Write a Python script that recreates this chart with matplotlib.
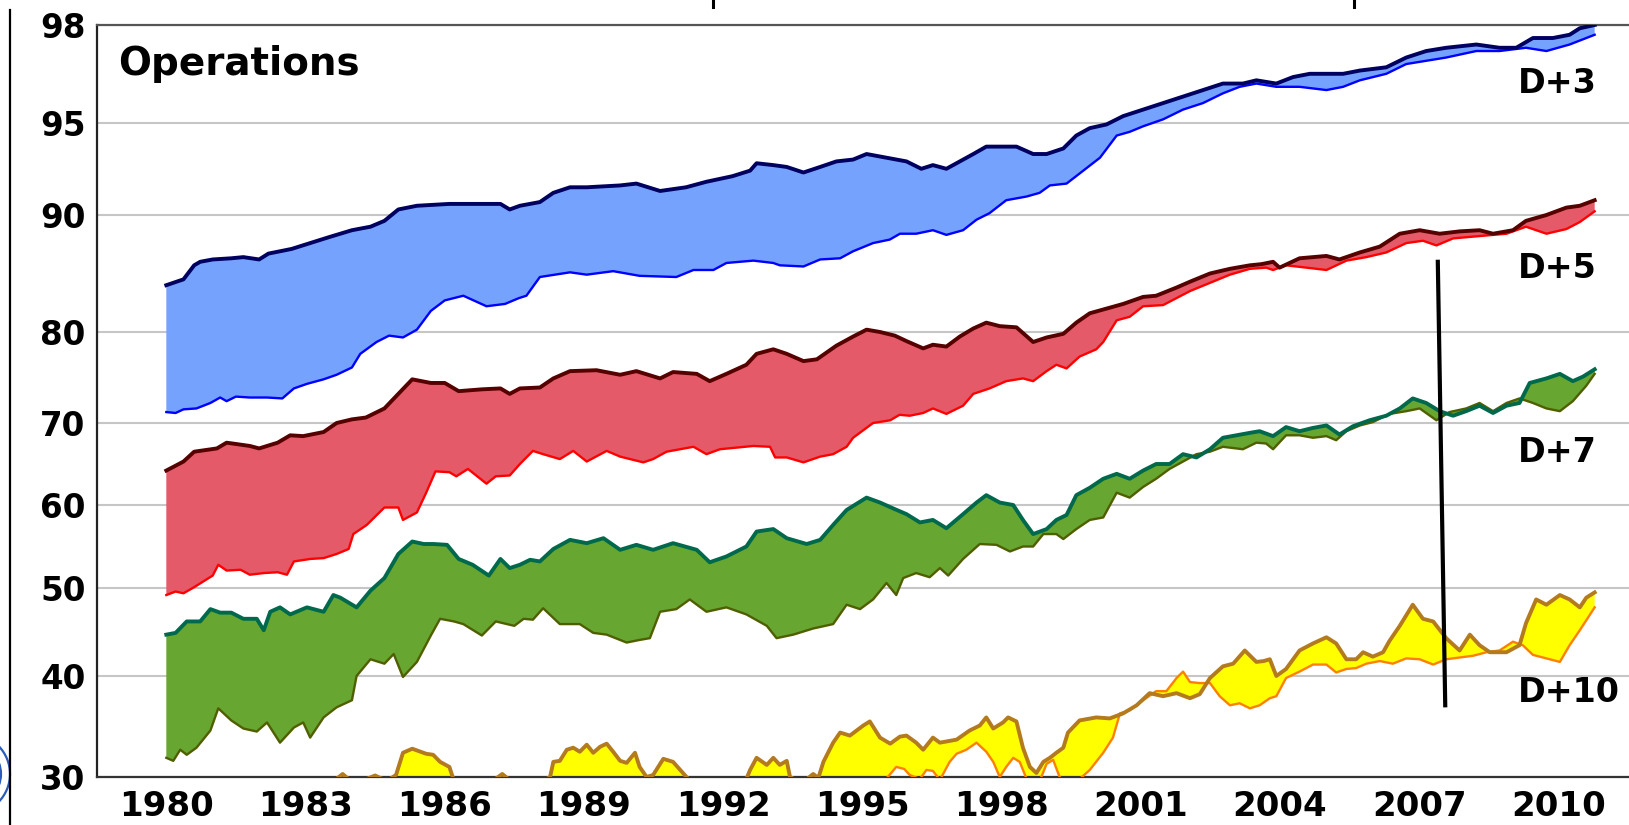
import numpy as np
import matplotlib
matplotlib.use("Agg")
import matplotlib.pyplot as plt
from matplotlib.lines import Line2D
from matplotlib.patches import Circle

# ---------------- data (year, anomaly correlation %) ----------------
d3_nh = [(1980.0,84.0),(1980.37,84.5),(1980.6,85.7),(1980.73,86.0),(1981.0,86.2),(1981.4,86.3),(1981.66,86.4),(1982.0,86.2),(1982.2,86.7),(1982.7,87.1),(1983.1,87.6),(1983.5,88.1),(1984.0,88.7),(1984.4,89.0),(1984.7,89.5),(1985.0,90.3),(1985.4,90.5),(1986.1,90.6),(1986.8,90.6),(1987.2,90.6),(1987.4,90.3),(1987.62,90.5),(1988.05,90.7),(1988.34,91.2),(1988.7,91.5),(1989.06,91.5),(1989.78,91.6),(1990.13,91.7),(1990.64,91.3),(1991.2,91.5),(1991.64,91.8),(1992.2,92.1),(1992.58,92.4),(1992.72,92.8),(1993.08,92.7),(1993.37,92.6),(1993.73,92.3),(1994.09,92.6),(1994.44,92.9),(1994.8,93.0),(1995.09,93.3),(1995.52,93.1),(1995.95,92.9),(1996.27,92.5),(1996.52,92.7),(1996.81,92.5),(1997.1,92.9),(1997.39,93.3),(1997.67,93.7),(1997.96,93.7),(1998.32,93.7),(1998.68,93.3),(1998.97,93.3),(1999.33,93.6),(1999.61,94.3),(1999.9,94.7),(2000.26,94.9),(2000.62,95.2),(2001.05,95.4),(2001.48,95.6),(2001.91,95.8),(2002.34,96.0),(2002.77,96.2),(2003.2,96.2),(2003.49,96.3),(2003.92,96.2),(2004.28,96.4),(2004.64,96.5),(2005.0,96.5),(2005.36,96.5),(2005.72,96.6),(2006.29,96.7),(2006.72,97.0),(2007.15,97.2),(2007.58,97.3),(2008.23,97.4),(2008.73,97.3),(2009.09,97.3),(2009.45,97.6),(2009.88,97.6),(2010.24,97.7),(2010.46,97.9),(2010.78,98.0)]
d3_sh = [(1980.0,71.2),(1980.2,71.1),(1980.37,71.5),(1980.65,71.6),(1980.95,72.2),(1981.16,72.8),(1981.3,72.4),(1981.5,72.9),(1981.8,72.8),(1982.17,72.8),(1982.5,72.7),(1982.75,73.8),(1983.03,74.3),(1983.39,74.8),(1983.67,75.3),(1984.0,76.1),(1984.18,77.6),(1984.53,78.9),(1984.8,79.6),(1985.1,79.4),(1985.4,80.2),(1985.7,81.8),(1986.0,82.7),(1986.4,83.1),(1986.9,82.2),(1987.3,82.4),(1987.6,82.9),(1987.76,83.1),(1988.05,84.7),(1988.7,85.1),(1989.06,84.9),(1989.63,85.2),(1990.2,84.8),(1990.99,84.7),(1991.36,85.3),(1991.79,85.3),(1992.07,85.9),(1992.65,86.1),(1993.08,85.9),(1993.22,85.7),(1993.73,85.6),(1994.09,86.2),(1994.52,86.3),(1994.8,86.9),(1995.23,87.6),(1995.59,87.9),(1995.81,88.4),(1996.16,88.4),(1996.52,88.7),(1996.81,88.3),(1997.17,88.7),(1997.46,89.6),(1997.74,90.1),(1998.1,90.8),(1998.54,91.0),(1998.82,91.2),(1999.04,91.6),(1999.4,91.7),(1999.76,92.4),(2000.12,93.1),(2000.48,94.3),(2000.76,94.5),(2001.05,94.8),(2001.48,95.1),(2001.91,95.4),(2002.34,95.6),(2002.77,95.9),(2003.13,96.1),(2003.49,96.2),(2003.92,96.1),(2004.42,96.1),(2005.0,96.0),(2005.36,96.1),(2005.72,96.3),(2006.29,96.5),(2006.72,96.8),(2007.15,96.9),(2007.58,97.0),(2008.23,97.2),(2008.73,97.2),(2009.3,97.3),(2009.74,97.2),(2010.24,97.4),(2010.78,97.7)]
d5_nh = [(1980.0,64.2),(1980.37,65.3),(1980.6,66.5),(1981.09,66.9),(1981.3,67.6),(1981.8,67.2),(1982.0,66.9),(1982.4,67.6),(1982.67,68.5),(1982.95,68.4),(1983.39,68.9),(1983.67,70.0),(1984.0,70.4),(1984.3,70.6),(1984.7,71.6),(1985.0,73.2),(1985.3,74.8),(1985.7,74.4),(1986.0,74.4),(1986.3,73.5),(1986.8,73.7),(1987.2,73.8),(1987.4,73.2),(1987.62,73.8),(1988.05,73.9),(1988.34,74.9),(1988.7,75.7),(1989.27,75.8),(1989.78,75.3),(1990.13,75.7),(1990.64,74.9),(1990.92,75.6),(1991.43,75.4),(1991.71,74.6),(1992.07,75.4),(1992.5,76.4),(1992.72,77.6),(1993.08,78.1),(1993.37,77.6),(1993.73,76.8),(1994.02,77.0),(1994.44,78.5),(1994.8,79.5),(1995.09,80.2),(1995.38,80.0),(1995.7,79.6),(1995.95,79.0),(1996.31,78.2),(1996.52,78.6),(1996.81,78.4),(1997.1,79.5),(1997.39,80.3),(1997.67,80.8),(1997.96,80.5),(1998.32,80.4),(1998.68,78.9),(1998.97,79.4),(1999.33,79.8),(1999.61,80.8),(1999.9,81.6),(2000.26,82.0),(2000.62,82.4),(2001.05,83.0),(2001.33,83.1),(2001.77,83.8),(2002.06,84.3),(2002.49,85.0),(2002.92,85.4),(2003.35,85.7),(2003.6,85.8),(2003.85,86.0),(2003.99,85.5),(2004.42,86.3),(2005.0,86.5),(2005.28,86.2),(2005.72,86.8),(2006.15,87.3),(2006.58,88.4),(2007.01,88.7),(2007.44,88.4),(2007.87,88.6),(2008.3,88.7),(2008.59,88.4),(2009.02,88.7),(2009.3,89.5),(2009.74,90.0),(2010.17,90.4),(2010.46,90.5),(2010.78,90.8)]
d5_sh = [(1980.0,49.2),(1980.2,49.6),(1980.37,49.4),(1980.6,50.1),(1981.0,51.5),(1981.12,52.8),(1981.3,52.1),(1981.6,52.2),(1981.8,51.6),(1982.1,51.8),(1982.4,51.9),(1982.6,51.6),(1982.75,53.2),(1983.1,53.5),(1983.39,53.6),(1983.67,54.1),(1983.93,54.7),(1984.03,56.5),(1984.32,57.6),(1984.7,59.7),(1985.0,59.7),(1985.1,58.2),(1985.4,59.1),(1985.6,61.5),(1985.8,64.1),(1986.1,64.0),(1986.25,63.5),(1986.5,64.4),(1986.9,62.6),(1987.1,63.5),(1987.4,63.6),(1987.62,65.0),(1987.9,66.6),(1988.12,66.2),(1988.48,65.6),(1988.77,66.6),(1989.06,65.3),(1989.49,66.6),(1989.78,65.9),(1990.28,65.2),(1990.49,65.6),(1990.78,66.5),(1991.36,67.1),(1991.64,66.2),(1991.93,66.8),(1992.65,67.2),(1993.01,67.1),(1993.12,65.8),(1993.37,65.8),(1993.73,65.2),(1994.09,65.9),(1994.37,66.2),(1994.66,67.1),(1994.8,68.2),(1995.23,70.0),(1995.6,70.3),(1995.8,70.9),(1996.02,70.8),(1996.31,71.1),(1996.52,71.6),(1996.81,71.0),(1997.17,71.9),(1997.39,73.2),(1997.74,73.8),(1998.1,74.6),(1998.46,74.9),(1998.68,74.6),(1998.97,75.7),(1999.18,76.4),(1999.4,76.0),(1999.68,77.3),(2000.04,78.1),(2000.19,78.9),(2000.48,81.0),(2000.76,81.3),(2001.05,82.2),(2001.48,82.3),(2001.77,82.9),(2002.06,83.5),(2002.49,84.2),(2002.92,84.9),(2003.35,85.4),(2003.7,85.5),(2003.85,85.3),(2004.13,85.7),(2004.57,85.5),(2005.0,85.3),(2005.43,86.1),(2005.86,86.4),(2006.29,86.8),(2006.72,87.6),(2007.08,87.8),(2007.37,87.4),(2007.73,88.0),(2008.3,88.2),(2008.88,88.4),(2009.3,89.0),(2009.74,88.4),(2010.17,88.8),(2010.46,89.4),(2010.78,90.2)]
d7_nh = [(1980.0,44.7),(1980.2,44.9),(1980.44,46.2),(1980.73,46.2),(1980.95,47.6),(1981.16,47.2),(1981.4,47.2),(1981.66,46.5),(1981.95,46.5),(1982.1,45.2),(1982.24,47.3),(1982.45,47.8),(1982.67,47.0),(1983.03,47.8),(1983.39,47.3),(1983.6,49.2),(1983.75,48.9),(1984.1,47.8),(1984.4,49.7),(1984.7,51.2),(1985.0,54.1),(1985.3,55.6),(1985.55,55.3),(1985.76,55.3),(1986.05,55.2),(1986.3,53.5),(1986.6,52.8),(1986.95,51.5),(1987.2,53.5),(1987.4,52.4),(1987.62,52.8),(1987.84,53.4),(1988.05,53.2),(1988.34,54.7),(1988.7,55.8),(1989.06,55.4),(1989.42,56.0),(1989.78,54.6),(1990.13,55.2),(1990.49,54.6),(1990.92,55.4),(1991.43,54.6),(1991.71,53.1),(1992.07,53.8),(1992.5,55.0),(1992.72,56.8),(1993.08,57.1),(1993.37,56.0),(1993.8,55.3),(1994.09,55.8),(1994.37,57.6),(1994.66,59.4),(1995.09,60.9),(1995.38,60.3),(1995.7,59.5),(1995.95,58.9),(1996.24,57.9),(1996.52,58.2),(1996.81,57.2),(1997.17,58.9),(1997.46,60.3),(1997.67,61.2),(1997.96,60.3),(1998.25,60.0),(1998.46,58.2),(1998.68,56.5),(1998.97,57.1),(1999.18,58.2),(1999.4,58.8),(1999.61,61.2),(1999.9,62.1),(2000.19,63.2),(2000.48,63.8),(2000.76,63.2),(2001.05,64.2),(2001.33,65.0),(2001.62,65.0),(2001.91,66.2),(2002.2,65.8),(2002.49,66.8),(2002.77,68.2),(2003.06,68.5),(2003.35,68.8),(2003.56,69.0),(2003.85,68.4),(2004.13,69.5),(2004.42,69.0),(2004.71,69.4),(2005.0,69.7),(2005.28,68.6),(2005.57,69.6),(2005.93,70.3),(2006.29,70.8),(2006.58,71.6),(2006.86,72.7),(2007.15,72.2),(2007.44,71.3),(2007.73,70.8),(2008.01,71.3),(2008.3,71.9),(2008.59,71.1),(2008.88,71.9),(2009.16,72.2),(2009.38,74.4),(2009.74,74.9),(2010.03,75.4),(2010.31,74.6),(2010.53,75.1),(2010.78,75.9)]
d7_sh = [(1980.0,31.9),(1980.15,31.6),(1980.3,32.7),(1980.44,32.2),(1980.65,32.9),(1980.95,34.6),(1981.12,36.8),(1981.4,35.6),(1981.66,34.8),(1981.95,34.5),(1982.17,35.4),(1982.45,33.4),(1982.75,34.9),(1982.95,35.4),(1983.1,33.9),(1983.39,35.9),(1983.67,36.9),(1984.0,37.6),(1984.1,40.0),(1984.4,41.9),(1984.7,41.4),(1984.9,42.5),(1985.1,39.9),(1985.4,41.6),(1985.7,44.6),(1985.9,46.5),(1986.2,46.2),(1986.4,45.9),(1986.8,44.6),(1987.1,46.2),(1987.5,45.7),(1987.7,46.5),(1987.9,46.4),(1988.12,47.7),(1988.48,45.9),(1988.91,45.9),(1989.2,44.9),(1989.49,44.7),(1989.92,43.8),(1990.2,44.1),(1990.42,44.3),(1990.64,47.3),(1990.99,47.6),(1991.28,48.7),(1991.64,47.3),(1992.07,47.8),(1992.5,47.0),(1992.94,45.7),(1993.15,44.3),(1993.51,44.7),(1993.94,45.4),(1994.37,45.9),(1994.66,48.1),(1994.95,47.6),(1995.23,48.7),(1995.52,50.6),(1995.73,49.2),(1995.88,51.2),(1996.16,51.8),(1996.45,51.3),(1996.67,52.4),(1996.85,51.5),(1997.17,53.5),(1997.53,55.3),(1997.89,55.2),(1998.18,54.4),(1998.46,55.0),(1998.68,55.0),(1998.9,56.5),(1999.18,56.5),(1999.33,55.9),(1999.61,57.1),(1999.9,58.2),(2000.19,58.5),(2000.48,61.5),(2000.76,60.9),(2001.05,62.2),(2001.33,63.2),(2001.62,64.4),(2001.91,65.3),(2002.2,66.2),(2002.49,66.5),(2002.77,67.1),(2003.2,66.8),(2003.49,67.6),(2003.7,67.5),(2003.85,66.8),(2004.13,68.5),(2004.42,68.5),(2004.71,68.2),(2005.0,68.4),(2005.21,67.9),(2005.43,69.0),(2005.72,69.7),(2006.0,70.1),(2006.36,71.0),(2006.72,71.3),(2007.01,71.6),(2007.37,70.3),(2007.65,71.2),(2008.01,71.6),(2008.3,72.2),(2008.59,71.3),(2008.88,72.2),(2009.16,72.7),(2009.45,72.2),(2009.74,71.6),(2010.03,71.3),(2010.31,72.4),(2010.6,74.1),(2010.78,75.4)]
d10_nh = [(1980.0,26.5),(1980.5,27.5),(1981.0,28.2),(1981.5,27.2),(1982.0,27.8),(1982.5,28.6),(1983.0,28.2),(1983.5,29.2),(1983.8,30.3),(1984.05,29.3),(1984.5,30.15),(1984.75,29.6),(1984.95,30.2),(1985.1,32.4),(1985.3,32.8),(1985.6,32.3),(1985.75,32.2),(1985.9,31.5),(1986.1,31.0),(1986.2,29.6),(1986.6,28.6),(1987.0,29.5),(1987.24,30.3),(1987.5,29.3),(1987.9,29.0),(1988.27,30.0),(1988.34,31.5),(1988.48,31.6),(1988.63,32.7),(1988.77,32.9),(1988.91,32.5),(1989.06,33.2),(1989.2,32.4),(1989.35,33.0),(1989.49,33.3),(1989.63,32.5),(1989.78,31.6),(1989.92,31.4),(1990.1,32.4),(1990.2,31.0),(1990.35,30.0),(1990.49,30.2),(1990.71,31.8),(1990.92,31.5),(1991.21,30.0),(1991.36,29.3),(1991.8,28.5),(1992.2,29.0),(1992.5,29.8),(1992.58,30.7),(1992.72,31.9),(1992.94,31.2),(1993.08,31.9),(1993.22,31.2),(1993.37,31.6),(1993.44,30.0),(1993.7,29.4),(1993.94,30.3),(1994.05,29.9),(1994.16,31.5),(1994.37,33.4),(1994.52,34.4),(1994.73,34.1),(1995.02,35.1),(1995.16,35.5),(1995.38,33.9),(1995.6,33.3),(1995.81,34.0),(1995.95,34.1),(1996.16,33.4),(1996.31,32.7),(1996.52,33.9),(1996.67,33.4),(1997.03,33.7),(1997.31,34.6),(1997.53,35.1),(1997.67,35.9),(1997.82,34.8),(1998.03,35.4),(1998.14,35.9),(1998.32,35.5),(1998.46,32.9),(1998.61,31.0),(1998.75,30.4),(1998.9,31.5),(1999.04,31.9),(1999.18,32.4),(1999.33,32.9),(1999.43,34.4),(1999.68,35.6),(2000.04,35.9),(2000.33,35.8),(2000.62,36.3),(2000.91,37.1),(2001.19,38.3),(2001.48,38.0),(2001.77,38.3),(2002.06,37.8),(2002.27,38.2),(2002.49,39.8),(2002.77,41.1),(2002.99,41.4),(2003.24,42.9),(2003.49,41.6),(2003.65,41.7),(2003.78,41.9),(2003.92,40.0),(2004.13,40.8),(2004.42,42.9),(2004.71,43.7),(2005.0,44.4),(2005.21,43.7),(2005.43,41.9),(2005.64,41.9),(2005.79,42.7),(2006.0,42.2),(2006.22,42.7),(2006.36,44.0),(2006.58,45.7),(2006.86,48.1),(2007.08,46.5),(2007.3,46.2),(2007.58,44.3),(2007.87,42.9),(2008.09,44.7),(2008.3,43.5),(2008.52,42.7),(2008.88,42.7),(2009.16,43.5),(2009.3,46.0),(2009.52,48.7),(2009.74,48.1),(2010.03,49.2),(2010.24,48.7),(2010.46,47.8),(2010.6,48.9),(2010.78,49.5)]
d10_sh = [(1980.0,20.0),(1981.5,21.0),(1983.0,22.0),(1984.5,23.5),(1985.5,25.0),(1987.0,24.0),(1988.5,25.5),(1990.0,26.0),(1991.5,25.0),(1993.0,26.5),(1994.3,27.5),(1995.0,28.2),(1995.4,29.2),(1995.73,31.0),(1995.9,30.8),(1996.02,30.2),(1996.24,29.8),(1996.38,30.7),(1996.52,30.6),(1996.67,29.7),(1996.88,31.5),(1997.03,32.3),(1997.24,32.7),(1997.46,33.4),(1997.67,32.5),(1997.82,31.5),(1997.96,30.0),(1998.1,31.0),(1998.25,31.9),(1998.39,31.5),(1998.54,29.8),(1998.75,28.8),(1998.97,31.3),(1999.11,31.7),(1999.25,30.0),(1999.4,29.3),(1999.61,29.5),(1999.9,30.7),(2000.19,32.4),(2000.4,33.9),(2000.55,36.3),(2000.76,36.6),(2001.05,37.6),(2001.33,38.5),(2001.55,38.5),(2001.77,39.8),(2001.91,40.5),(2002.06,39.4),(2002.27,39.3),(2002.49,39.3),(2002.7,38.0),(2002.92,37.1),(2003.13,37.3),(2003.35,36.8),(2003.56,37.1),(2003.78,37.8),(2003.92,38.0),(2004.13,39.8),(2004.42,40.5),(2004.71,41.3),(2005.0,41.3),(2005.21,40.4),(2005.43,40.8),(2005.64,40.9),(2005.86,41.4),(2006.15,41.7),(2006.43,41.4),(2006.72,42.0),(2007.01,41.9),(2007.3,41.3),(2007.58,41.9),(2007.87,42.1),(2008.16,42.3),(2008.45,42.7),(2008.73,42.9),(2009.02,43.9),(2009.23,43.5),(2009.45,42.4),(2009.74,42.0),(2010.03,41.6),(2010.24,43.5),(2010.46,45.2),(2010.78,47.8)]

# model-change marker line (year, value)
change_x = [2007.40, 2007.56]
change_y = [86.0, 37.1]

band_names = ["D+3", "D+5", "D+7", "D+10"]
label_y = [95.9, 84.6, 65.3, 37.4]

x_ticks = [1980, 1983, 1986, 1989, 1992, 1995, 1998, 2001, 2004, 2007, 2010]
y_ticks = [30, 40, 50, 60, 70, 80, 90, 95, 98]
# relative axis position of each y tick (irregular scale of the original chart)
y_tick_pos = np.array([0, 101, 189, 272, 354, 445, 562, 654.4, 752]) / 752.0

# ---------------- custom y scale ----------------
yv = np.array(y_ticks, dtype=float)
yp = y_tick_pos


def _fwd(v):
    v = np.asarray(v, dtype=float)
    out = np.interp(v, yv, yp)
    slo = (yp[1] - yp[0]) / (yv[1] - yv[0])
    shi = (yp[-1] - yp[-2]) / (yv[-1] - yv[-2])
    out = np.where(v < yv[0], yp[0] + (v - yv[0]) * slo, out)
    out = np.where(v > yv[-1], yp[-1] + (v - yv[-1]) * shi, out)
    return out


def _inv(p):
    p = np.asarray(p, dtype=float)
    out = np.interp(p, yp, yv)
    slo = (yv[1] - yv[0]) / (yp[1] - yp[0])
    shi = (yv[-1] - yv[-2]) / (yp[-1] - yp[-2])
    out = np.where(p < yp[0], yv[0] + (p - yp[0]) * slo, out)
    out = np.where(p > yp[-1], yv[-1] + (p - yp[-1]) * shi, out)
    return out


plt.rcParams['font.family'] = ['DejaVu Sans']

W, H = 1629, 825
fig = plt.figure(figsize=(W / 100, H / 100), dpi=100)
ax = fig.add_axes([96.7 / W, (H - 777) / H, 1 - 96.7 / W, (777 - 25) / H])
ax.set_yscale('function', functions=(_fwd, _inv))
ax.set_ylim(30, 98)
ax.set_xlim(1978.50, 2011.52)

bands = [
    (d10_nh, d10_sh, '#ffff00', '#b47a1e', '#ff8000'),
    (d7_nh, d7_sh, '#68a632', '#00694c', '#4f5f00'),
    (d5_nh, d5_sh, '#e45a68', '#560000', '#ff0000'),
    (d3_nh, d3_sh, '#74a2fc', '#000060', '#0000ff'),
]
for nh, sh, fc, nhc, shc in bands:
    xn, yn = np.array(nh).T
    xs, ys = np.array(sh).T
    ax.fill(np.concatenate([xn, xs[::-1]]), np.concatenate([yn, ys[::-1]]),
            facecolor=fc, edgecolor='none', zorder=2)
    ax.plot(xs, ys, color=shc, lw=1.7, zorder=3, solid_joinstyle='round')
    ax.plot(xn, yn, color=nhc, lw=2.8, zorder=4, solid_joinstyle='round')

ax.plot(change_x, change_y, color='black', lw=3.0, zorder=5)

# labels
for name, ly in zip(band_names, label_y):
    ax.text(2009.13, ly, name, fontsize=24, fontweight='bold', ha='left',
            va='baseline', zorder=6)
ax.text(0.0139, 0.9335, "Operations", transform=ax.transAxes, fontsize=28,
        fontweight='bold', ha='left', va='baseline', zorder=6)

# axes styling
ax.set_yticks(y_ticks)
ax.set_yticklabels([str(t) for t in y_ticks])
ax.set_xticks(x_ticks)
ax.set_xticklabels([str(t) for t in x_ticks])
ax.yaxis.set_minor_locator(matplotlib.ticker.NullLocator())
ax.tick_params(axis='both', length=0)
ax.tick_params(axis='y', pad=8, labelsize=23.5)
ax.tick_params(axis='x', pad=9, labelsize=24.5)
for lab in ax.get_xticklabels() + ax.get_yticklabels():
    lab.set_fontweight('bold')
ax.grid(axis='y', color='#c6c6c6', lw=1.5)
ax.grid(axis='x', visible=False)
ax.set_axisbelow(True)
ax.spines['right'].set_visible(False)
ax.spines['left'].set_color('#222222')
ax.spines['bottom'].set_color('#333333')
ax.spines['top'].set_color('#555555')
for s in ('left', 'bottom', 'top'):
    ax.spines[s].set_linewidth(1.6)

# decorations outside the plot: left border line, logo fragment,
# descender stubs of the cropped-off title
fig.add_artist(Line2D([10 / W, 10 / W], [0, (H - 10) / H], transform=fig.transFigure,
                      color='black', lw=1.6))
for r in (0.40, 0.31, 0.2):
    fig.add_artist(Circle((-0.30, 0.51), r, transform=fig.dpi_scale_trans,
                          fill=False, edgecolor='#2a5cb8', lw=1.6))
for px in (713, 1354):
    fig.add_artist(Line2D([px / W, px / W], [(H - 7) / H, 1.0],
                          transform=fig.transFigure, color='black', lw=2.2))

fig.savefig('out.png', dpi=100)
